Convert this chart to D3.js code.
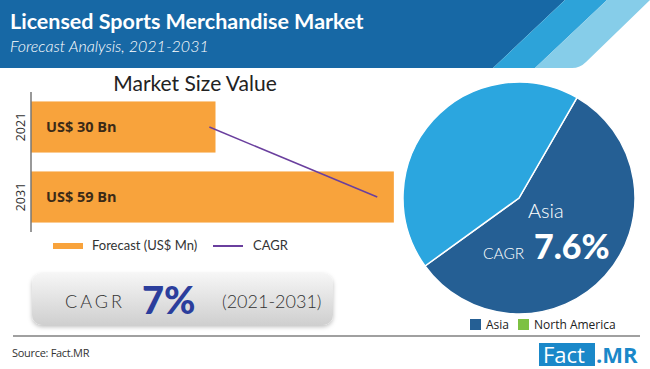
<!DOCTYPE html>
<html><head><meta charset="utf-8">
<script src="https://cdn.jsdelivr.net/npm/d3@7"></script>
<style>body{margin:0;background:#fff;}svg{display:block;}</style>
</head><body>
<svg id="c" width="650" height="369"></svg>
<script>
// ---- data ----
const years = ["2021", "2031"];
const marketValues = [30, 59];            // US$ Bn
const barLabels = ["US$ 30 Bn", "US$ 59 Bn"];
const cagrLineValues = [29, 56.3];         // line end points along the value axis
const pieRegions = ["Asia", "North America"];
const pieShares = [56.7, 43.3];
const pieColors = ["#255f94", "#2ba6df"];
const legendRegions = ["Asia", "North America"];
const legendColors = ["#255f94", "#7dc142"];
const overallCagr = "7%";
const asiaCagr = "7.6%";

const svg = d3.select("#c");
const W = 650, H = 369;

// ---- header ----
svg.append("path").attr("d","M0,0 H565 L493,68 H0 Z").attr("fill","#1768a5");
svg.append("path").attr("d","M565,0 H607 L535,68 H493 Z").attr("fill","#2da3d9");
svg.append("path").attr("d","M607,0 H650 L586,62 Q580,68 572,68 H535 Z").attr("fill","#86cde9");
svg.append("text").attr("x",10).attr("y",29).text("Licensed Sports Merchandise Market")
  .attr("fill","#fff").attr("font-family","Lato").attr("font-weight","bold").attr("font-size",21.5);
svg.append("text").attr("x",10).attr("y",52).text("Forecast Analysis, 2021-2031")
  .attr("fill","#fff").attr("font-family","Lato").attr("font-style","italic").attr("font-weight",300).attr("font-size",16);

// ---- bar chart ----
const x = d3.scaleLinear().domain([0, 60]).range([31, 400]);
const y = d3.scaleBand().domain(years).range([92, 232]).paddingInner(0.27).paddingOuter(0.135);

svg.append("text").attr("x",195).attr("y",91).attr("text-anchor","middle").text("Market Size Value")
  .attr("fill","#222").attr("font-family","Lato").attr("font-weight",400).attr("font-size",21);

const g = svg.append("g");
g.selectAll("rect.bar").data(years).join("rect").attr("class","bar")
  .attr("x", x(0)).attr("y", d => y(d))
  .attr("width", (d,i) => x(marketValues[i]) - x(0)).attr("height", y.bandwidth())
  .attr("fill","#f8a33c");
g.selectAll("text.bl").data(years).join("text").attr("class","bl")
  .attr("x", 46).attr("y", d => y(d) + y.bandwidth()/2 + 5)
  .text((d,i) => barLabels[i]).attr("fill","#3b2a17")
  .attr("font-family","Open Sans").attr("font-weight","bold").attr("font-size",14.5);

const yAxis = svg.append("g").attr("transform","translate(31,0)")
  .call(d3.axisLeft(y).tickSize(0).tickPadding(6));
yAxis.select(".domain").attr("stroke","#777").attr("stroke-width",1.5).attr("d","M0,92V232");
yAxis.selectAll(".tick").each(function(d){
  const t = d3.select(this);
  t.attr("transform", `translate(0,${y(d)+y.bandwidth()/2})`);
  t.select("text").attr("transform","rotate(-90)").attr("text-anchor","middle")
    .attr("x",0).attr("y",-3.5).attr("dy","-0.2em")
    .attr("font-family","Open Sans").attr("font-size",12.5).attr("fill","#333");
});

const line = d3.line().x(d => x(d.v)).y(d => y(d.yr) + y.bandwidth()/2);
svg.append("path").datum(years.map((yr,i) => ({yr, v: cagrLineValues[i]})))
  .attr("d", line).attr("fill","none").attr("stroke","#6a3f9e").attr("stroke-width",1.5);

// legend
svg.append("rect").attr("x",53).attr("y",243).attr("width",30).attr("height",6).attr("fill","#f8a33c");
svg.append("text").attr("x",92).attr("y",250).text("Forecast (US$ Mn)")
  .attr("font-family","Lato").attr("font-size",13).attr("fill","#333");
svg.append("line").attr("x1",213).attr("x2",243).attr("y1",246).attr("y2",246)
  .attr("stroke","#6a3f9e").attr("stroke-width",2);
svg.append("text").attr("x",253).attr("y",250).text("CAGR")
  .attr("font-family","Lato").attr("font-size",13).attr("fill","#333");

// ---- CAGR box ----
const defs = svg.append("defs");
const gr = defs.append("linearGradient").attr("id","gb").attr("x1",0).attr("y1",0).attr("x2",0).attr("y2",1);
gr.append("stop").attr("offset","0%").attr("stop-color","#f6f6f6");
gr.append("stop").attr("offset","100%").attr("stop-color","#cfcfcf");
const sh = defs.append("filter").attr("id","sh").attr("x","-10%").attr("y","-20%").attr("width","120%").attr("height","150%");
sh.append("feDropShadow").attr("dx",0).attr("dy",2).attr("stdDeviation",2).attr("flood-color","#000").attr("flood-opacity",0.25);
svg.append("rect").attr("x",32).attr("y",273).attr("width",301).attr("height",52).attr("rx",10)
  .attr("fill","url(#gb)").attr("filter","url(#sh)");
svg.append("text").attr("x",65).attr("y",308).text("CAGR").attr("letter-spacing",3)
  .attr("font-family","Lato").attr("font-weight",300).attr("font-size",18).attr("fill","#333");
svg.append("text").attr("x",142).attr("y",314).text(overallCagr)
  .attr("font-family","Lato").attr("font-weight",900).attr("font-size",38).attr("fill","#2b3e9c");
svg.append("text").attr("x",222).attr("y",308).text("(2021-2031)")
  .attr("font-family","Lato").attr("font-weight",300).attr("font-size",18).attr("fill","#333");

// ---- footer ----
svg.append("line").attr("x1",13).attr("x2",640).attr("y1",336).attr("y2",336).attr("stroke","#a0a0a0").attr("stroke-width",2);
svg.append("text").attr("x",12).attr("y",357).text("Source: Fact.MR")
  .attr("font-family","Open Sans").attr("font-size",11).attr("fill","#333").attr("letter-spacing",-0.3);
svg.append("rect").attr("x",539).attr("y",343).attr("width",56).attr("height",23).attr("fill","#1a88c9");
svg.append("text").attr("x",543).attr("y",363).text("Fact")
  .attr("font-family","Open Sans").attr("font-size",22).attr("fill","#fff");
svg.append("text").attr("x",596).attr("y",363).text(".MR")
  .attr("font-family","Open Sans").attr("font-weight","bold").attr("font-size",22).attr("fill","#1a88c9");

// ---- pie ----
const cx = 519, cy = 198, R = 116;
const pie = d3.pie().sort(null).value(d => d).startAngle(30*Math.PI/180).endAngle(390*Math.PI/180);
const arc = d3.arc().innerRadius(0).outerRadius(R);
const pg = svg.append("g").attr("transform",`translate(${cx},${cy})`);
pg.selectAll("path").data(pie(pieShares)).join("path")
  .attr("d", arc).attr("fill",(d,i)=>pieColors[i]).attr("stroke","#fff").attr("stroke-width",1.5);
svg.append("text").attr("x",528).attr("y",218).text(pieRegions[0])
  .attr("font-family","Lato").attr("font-weight",300).attr("font-size",20).attr("fill","#fff");
svg.append("text").attr("x",483).attr("y",259).text("CAGR")
  .attr("font-family","Lato").attr("font-weight",300).attr("font-size",15.5).attr("fill","#fff");
svg.append("text").attr("x",534).attr("y",259).text(asiaCagr)
  .attr("font-family","Lato").attr("font-weight",900).attr("font-size",34).attr("fill","#fff");

// pie legend
const lg = svg.append("g");
const lx = [470, 518];
legendRegions.forEach((r,i) => {
  lg.append("rect").attr("x",lx[i]).attr("y",319).attr("width",11).attr("height",11).attr("fill",legendColors[i]);
  lg.append("text").attr("x",lx[i]+16).attr("y",329).text(r)
    .attr("font-family","Open Sans").attr("font-size",12).attr("fill","#222");
});
</script>
</body></html>
